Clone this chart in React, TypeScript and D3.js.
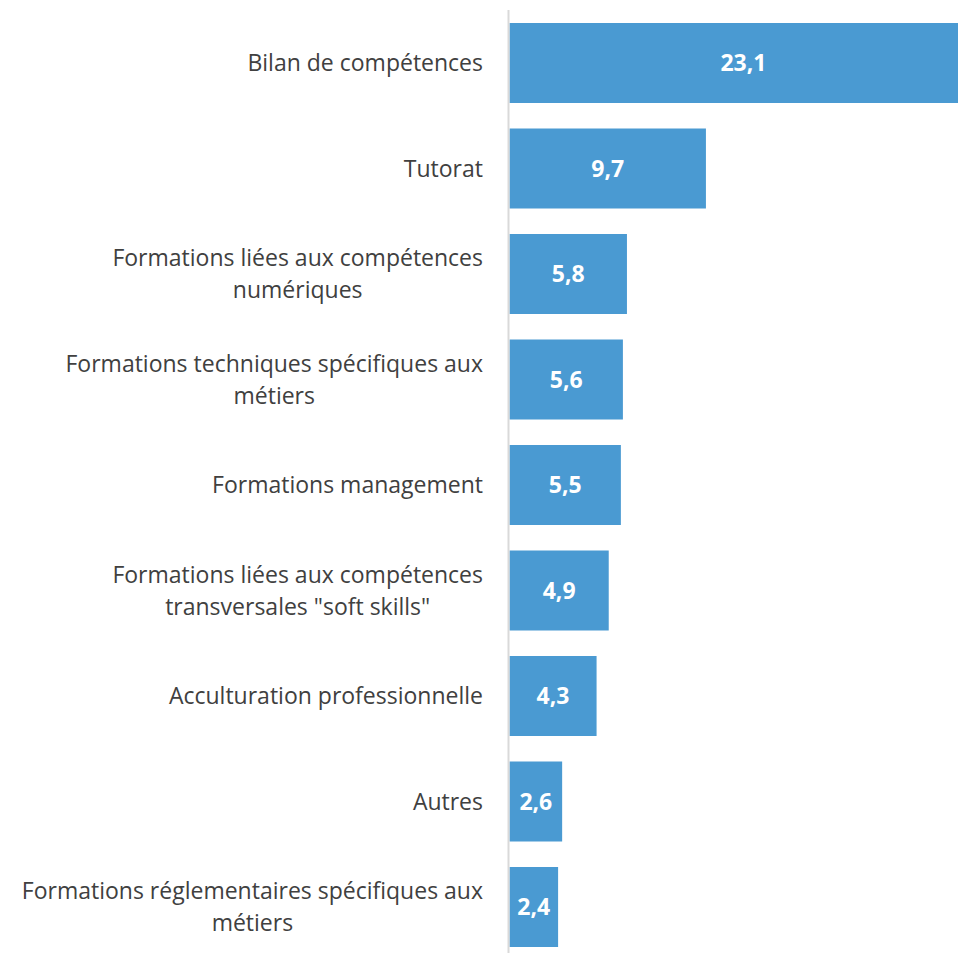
import React from "react";
import * as d3 from "d3";

const categories: string[][] = [
  ["Bilan de compétences"],
  ["Tutorat"],
  ["Formations liées aux compétences", "numériques"],
  ["Formations techniques spécifiques aux", "métiers"],
  ["Formations management"],
  ["Formations liées aux compétences", "transversales \"soft skills\""],
  ["Acculturation professionnelle"],
  ["Autres"],
  ["Formations réglementaires spécifiques aux", "métiers"],
];
const values: number[] = [23.1, 9.7, 5.8, 5.6, 5.5, 4.9, 4.3, 2.6, 2.4];
const valueLabels: string[] = ["23,1", "9,7", "5,8", "5,6", "5,5", "4,9", "4,3", "2,6", "2,4"];

const W = 958;
const H = 953;
const FONT = "Open Sans";
const LABEL_SIZE = 23;
const VALUE_SIZE = 23;
const LINE_H = 32;

function measure(text: string, font: string): number {
  const c = document.createElement("canvas");
  const ctx = c.getContext("2d")!;
  ctx.font = font;
  return ctx.measureText(text).width;
}

export default function App() {
  const x = d3.scaleLinear().domain([0, 23.1]).range([509.5, 509.5 + 20.25 * 23.1]);
  const pi = 25.5 / 105.5;
  const y = d3
    .scaleBand<number>()
    .domain(d3.range(categories.length))
    .range([10.25, 959.75])
    .paddingInner(pi)
    .paddingOuter(pi / 2);
  const labelRight = 483;
  const labelFont = `${LABEL_SIZE}px "${FONT}"`;

  return (
    <svg
      width={W}
      height={H}
      style={{ position: "absolute", left: 0, top: 0, background: "#fff" }}
      fontFamily={FONT}
    >
      {values.map((v, i) => {
        const y0 = y(i)!;
        const bw = y.bandwidth();
        return (
          <rect key={"b" + i} x={x(0)} y={y0} width={x(v) - x(0)} height={bw} fill="#4a9ad2" />
        );
      })}
      <line x1={508.5} x2={508.5} y1={10} y2={H} stroke="#d9d9d9" strokeWidth={2} />
      {values.map((v, i) => {
        const cy = y(i)! + y.bandwidth() / 2;
        const cx = (x(0) + Math.min(x(v), x(23.1))) / 2;
        return (
          <text
            key={"v" + i}
            x={cx}
            y={cy}
            dy="0.36em"
            textAnchor="middle"
            fill="#fff"
            fontWeight="bold"
            fontSize={VALUE_SIZE}
          >
            {valueLabels[i]}
          </text>
        );
      })}
      {categories.map((lines, i) => {
        const cy = y(i)! + y.bandwidth() / 2;
        const maxW = Math.max(...lines.map((l) => measure(l, labelFont)));
        const cx = labelRight - maxW / 2;
        const n = lines.length;
        return (
          <text key={"c" + i} fill="#404040" fontSize={LABEL_SIZE} textAnchor="middle">
            {lines.map((l, j) => (
              <tspan key={j} x={cx} y={cy + (j - (n - 1) / 2) * LINE_H} dy="0.36em">
                {l}
              </tspan>
            ))}
          </text>
        );
      })}
    </svg>
  );
}
